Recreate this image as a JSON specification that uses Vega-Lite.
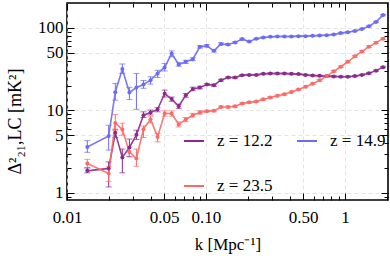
{
"$schema":"https://vega.github.io/schema/vega-lite/v6.json",
"width":321,"height":197,
"autosize":{"type":"none"},
"padding":{"left":67,"top":3,"right":2,"bottom":58},
"background":"white",
"config":{"font":"Liberation Serif","view":{"stroke":"black","strokeWidth":1.6},
"axis":{"labelFont":"Liberation Serif","titleFont":"Liberation Serif","labelColor":"black","titleColor":"black","tickColor":"black","gridColor":"#dcdcdc","gridDash":[4,3],"gridWidth":0.8}},
"data":{"values":[
{"s":"z = 14.9","k":0.014,"p":3.6,"lo":3.1,"hi":4.3},
{"s":"z = 14.9","k":0.01995,"p":4.9,"lo":3.3,"hi":6.6},
{"s":"z = 14.9","k":0.02226,"p":16.6,"lo":13.3,"hi":21.2},
{"s":"z = 14.9","k":0.02501,"p":31.8,"lo":28,"hi":36.5},
{"s":"z = 14.9","k":0.02811,"p":16.5,"lo":13.5,"hi":19},
{"s":"z = 14.9","k":0.03159,"p":18.9,"lo":10.3,"hi":28},
{"s":"z = 14.9","k":0.0355,"p":20.6,"lo":18.5,"hi":23},
{"s":"z = 14.9","k":0.0399,"p":23.2,"lo":20.8,"hi":25.5},
{"s":"z = 14.9","k":0.04484,"p":28,"lo":25,"hi":30.6},
{"s":"z = 14.9","k":0.05039,"p":33.1,"lo":30,"hi":37},
{"s":"z = 14.9","k":0.05663,"p":48.9,"lo":44.5,"hi":52.5},
{"s":"z = 14.9","k":0.06364,"p":36,"lo":34.3,"hi":38.1},
{"s":"z = 14.9","k":0.07152,"p":38.7,"lo":37,"hi":40.5},
{"s":"z = 14.9","k":0.08038,"p":41.7,"lo":40,"hi":43.5},
{"s":"z = 14.9","k":0.09033,"p":58.9,"lo":57,"hi":61},
{"s":"z = 14.9","k":0.1015,"p":60.5,"lo":58.5,"hi":62.5},
{"s":"z = 14.9","k":0.1141,"p":52.6,"lo":51,"hi":54.3},
{"s":"z = 14.9","k":0.1282,"p":63.9,"lo":62,"hi":65.8},
{"s":"z = 14.9","k":0.1441,"p":62.9,"lo":61.2,"hi":64.6},
{"s":"z = 14.9","k":0.162,"p":66.6,"lo":65,"hi":68.2},
{"s":"z = 14.9","k":0.182,"p":73,"lo":71.3,"hi":74.7},
{"s":"z = 14.9","k":0.2046,"p":68.4,"lo":67,"hi":69.8},
{"s":"z = 14.9","k":0.2299,"p":73.6,"lo":72.2,"hi":75},
{"s":"z = 14.9","k":0.2584,"p":76.5,"lo":75.1,"hi":77.9},
{"s":"z = 14.9","k":0.2904,"p":77.8,"lo":76.5,"hi":79.1},
{"s":"z = 14.9","k":0.3263,"p":78.7,"lo":77.5,"hi":79.9},
{"s":"z = 14.9","k":0.3667,"p":78.7,"lo":77.3,"hi":80.1},
{"s":"z = 14.9","k":0.4121,"p":78.7,"lo":77.3,"hi":80.1},
{"s":"z = 14.9","k":0.4632,"p":79.3,"lo":77.9,"hi":80.7},
{"s":"z = 14.9","k":0.5205,"p":79.3,"lo":77.9,"hi":80.7},
{"s":"z = 14.9","k":0.585,"p":80,"lo":78.6,"hi":81.4},
{"s":"z = 14.9","k":0.6574,"p":80.9,"lo":79.4,"hi":82.4},
{"s":"z = 14.9","k":0.7388,"p":81.6,"lo":80.1,"hi":83.1},
{"s":"z = 14.9","k":0.8303,"p":83.2,"lo":81.7,"hi":84.7},
{"s":"z = 14.9","k":0.9331,"p":86.3,"lo":84.7,"hi":87.9},
{"s":"z = 14.9","k":1.0486,"p":88.7,"lo":87.1,"hi":90.3},
{"s":"z = 14.9","k":1.1785,"p":91.5,"lo":89.9,"hi":93.1},
{"s":"z = 14.9","k":1.3243,"p":97,"lo":95.3,"hi":98.7},
{"s":"z = 14.9","k":1.4883,"p":104.5,"lo":102.6,"hi":106.4},
{"s":"z = 14.9","k":1.6726,"p":118,"lo":115.9,"hi":120.1},
{"s":"z = 14.9","k":1.8796,"p":142.6,"lo":140,"hi":145.2},
{"s":"z = 12.2","k":0.014,"p":1.85,"lo":1.75,"hi":2.0},
{"s":"z = 12.2","k":0.01995,"p":1.98,"lo":1.18,"hi":2.38},
{"s":"z = 12.2","k":0.02226,"p":5.34,"lo":4.7,"hi":5.9},
{"s":"z = 12.2","k":0.02501,"p":2.69,"lo":1.75,"hi":3.4},
{"s":"z = 12.2","k":0.02811,"p":3.55,"lo":2.75,"hi":4.5},
{"s":"z = 12.2","k":0.03159,"p":5.05,"lo":4.43,"hi":5.75},
{"s":"z = 12.2","k":0.0355,"p":8.74,"lo":8.2,"hi":9.6},
{"s":"z = 12.2","k":0.0399,"p":9.43,"lo":8.8,"hi":10.1},
{"s":"z = 12.2","k":0.04484,"p":10.25,"lo":9.6,"hi":10.8},
{"s":"z = 12.2","k":0.05039,"p":16,"lo":14.5,"hi":17.6},
{"s":"z = 12.2","k":0.05663,"p":13.7,"lo":12.9,"hi":14.5},
{"s":"z = 12.2","k":0.06364,"p":11.2,"lo":10.5,"hi":11.9},
{"s":"z = 12.2","k":0.07152,"p":15.2,"lo":14.4,"hi":16},
{"s":"z = 12.2","k":0.08038,"p":18.2,"lo":17.3,"hi":19.1},
{"s":"z = 12.2","k":0.09033,"p":18.9,"lo":18.2,"hi":19.6},
{"s":"z = 12.2","k":0.1015,"p":20.6,"lo":20,"hi":21.2},
{"s":"z = 12.2","k":0.1141,"p":20.2,"lo":19.6,"hi":20.8},
{"s":"z = 12.2","k":0.1282,"p":23.2,"lo":22.6,"hi":23.8},
{"s":"z = 12.2","k":0.1441,"p":25,"lo":24.5,"hi":25.5},
{"s":"z = 12.2","k":0.162,"p":25,"lo":24.5,"hi":25.5},
{"s":"z = 12.2","k":0.182,"p":26.7,"lo":26.2,"hi":27.2},
{"s":"z = 12.2","k":0.2046,"p":26.9,"lo":26.4,"hi":27.4},
{"s":"z = 12.2","k":0.2299,"p":26.9,"lo":26.4,"hi":27.4},
{"s":"z = 12.2","k":0.2584,"p":27.7,"lo":27.1,"hi":28.3},
{"s":"z = 12.2","k":0.2904,"p":28,"lo":27.4,"hi":28.6},
{"s":"z = 12.2","k":0.3263,"p":28,"lo":27.4,"hi":28.6},
{"s":"z = 12.2","k":0.3667,"p":28,"lo":27.4,"hi":28.6},
{"s":"z = 12.2","k":0.4121,"p":27.7,"lo":27.1,"hi":28.3},
{"s":"z = 12.2","k":0.4632,"p":27.5,"lo":27,"hi":28},
{"s":"z = 12.2","k":0.5205,"p":26.9,"lo":26.4,"hi":27.4},
{"s":"z = 12.2","k":0.585,"p":26.5,"lo":26,"hi":27},
{"s":"z = 12.2","k":0.6574,"p":26.2,"lo":25.7,"hi":26.7},
{"s":"z = 12.2","k":0.7388,"p":26,"lo":25.5,"hi":26.5},
{"s":"z = 12.2","k":0.8303,"p":25.8,"lo":25.3,"hi":26.3},
{"s":"z = 12.2","k":0.9331,"p":25.6,"lo":25.1,"hi":26.1},
{"s":"z = 12.2","k":1.0486,"p":25.6,"lo":25.1,"hi":26.1},
{"s":"z = 12.2","k":1.1785,"p":26,"lo":25.5,"hi":26.5},
{"s":"z = 12.2","k":1.3243,"p":26.9,"lo":26.4,"hi":27.4},
{"s":"z = 12.2","k":1.4883,"p":28.2,"lo":27.6,"hi":28.8},
{"s":"z = 12.2","k":1.6726,"p":30.3,"lo":29.7,"hi":30.9},
{"s":"z = 12.2","k":1.8796,"p":33.4,"lo":32.7,"hi":34.1},
{"s":"z = 23.5","k":0.014,"p":2.27,"lo":2.03,"hi":2.55},
{"s":"z = 23.5","k":0.01995,"p":1.72,"lo":1.38,"hi":2.1},
{"s":"z = 23.5","k":0.02226,"p":7.05,"lo":5.75,"hi":8.9},
{"s":"z = 23.5","k":0.02501,"p":5.87,"lo":5.0,"hi":7.0},
{"s":"z = 23.5","k":0.02811,"p":3.14,"lo":2.73,"hi":3.6},
{"s":"z = 23.5","k":0.03159,"p":2.61,"lo":2.1,"hi":3.4},
{"s":"z = 23.5","k":0.0355,"p":5.92,"lo":4.69,"hi":6.48},
{"s":"z = 23.5","k":0.0399,"p":7.82,"lo":7.05,"hi":8.5},
{"s":"z = 23.5","k":0.04484,"p":4.77,"lo":4.15,"hi":5.25},
{"s":"z = 23.5","k":0.05039,"p":9.17,"lo":8.5,"hi":9.85},
{"s":"z = 23.5","k":0.05663,"p":9.17,"lo":8.5,"hi":9.85},
{"s":"z = 23.5","k":0.06364,"p":6.75,"lo":6.3,"hi":7.25},
{"s":"z = 23.5","k":0.07152,"p":7.76,"lo":7.3,"hi":8.2},
{"s":"z = 23.5","k":0.08038,"p":8.74,"lo":8.3,"hi":9.2},
{"s":"z = 23.5","k":0.09033,"p":9.43,"lo":9.0,"hi":9.9},
{"s":"z = 23.5","k":0.1015,"p":9.78,"lo":9.54,"hi":10.02},
{"s":"z = 23.5","k":0.1141,"p":9.86,"lo":9.61,"hi":10.11},
{"s":"z = 23.5","k":0.1282,"p":11,"lo":10.7,"hi":11.3},
{"s":"z = 23.5","k":0.1441,"p":11,"lo":10.7,"hi":11.3},
{"s":"z = 23.5","k":0.162,"p":11.2,"lo":10.9,"hi":11.5},
{"s":"z = 23.5","k":0.182,"p":12.1,"lo":11.8,"hi":12.4},
{"s":"z = 23.5","k":0.2046,"p":12.5,"lo":12.2,"hi":12.8},
{"s":"z = 23.5","k":0.2299,"p":12.8,"lo":12.5,"hi":13.1},
{"s":"z = 23.5","k":0.2584,"p":13.6,"lo":13.3,"hi":13.9},
{"s":"z = 23.5","k":0.2904,"p":14.3,"lo":13.9,"hi":14.7},
{"s":"z = 23.5","k":0.3263,"p":15,"lo":14.6,"hi":15.4},
{"s":"z = 23.5","k":0.3667,"p":15.7,"lo":15.3,"hi":16.1},
{"s":"z = 23.5","k":0.4121,"p":16.7,"lo":16.3,"hi":17.1},
{"s":"z = 23.5","k":0.4632,"p":17.9,"lo":17.5,"hi":18.3},
{"s":"z = 23.5","k":0.5205,"p":19.3,"lo":18.8,"hi":19.8},
{"s":"z = 23.5","k":0.585,"p":21,"lo":20.5,"hi":21.5},
{"s":"z = 23.5","k":0.6574,"p":23.1,"lo":22.5,"hi":23.7},
{"s":"z = 23.5","k":0.7388,"p":26,"lo":25.4,"hi":26.6},
{"s":"z = 23.5","k":0.8303,"p":29.7,"lo":29,"hi":30.4},
{"s":"z = 23.5","k":0.9331,"p":33.8,"lo":33,"hi":34.6},
{"s":"z = 23.5","k":1.0486,"p":38.8,"lo":37.8,"hi":39.8},
{"s":"z = 23.5","k":1.1785,"p":45.2,"lo":44.1,"hi":46.3},
{"s":"z = 23.5","k":1.3243,"p":51.8,"lo":50.5,"hi":53.1},
{"s":"z = 23.5","k":1.4883,"p":59.2,"lo":57.7,"hi":60.7},
{"s":"z = 23.5","k":1.6726,"p":66.2,"lo":64.5,"hi":67.9},
{"s":"z = 23.5","k":1.8796,"p":74,"lo":72.2,"hi":75.8}
]},
"resolve":{"axis":{"x":"independent","y":"independent"}},
"layer":[
{"mark":{"type":"rule","strokeWidth":1},
 "encoding":{
  "x":{"field":"k","type":"quantitative","scale":{"type":"log","domain":[0.01,2.04],"nice":false},
   "axis":{"orient":"bottom","values":[0.01,0.05,0.1,0.5,1],"labelExpr":"datum.value>=1?'1':format(datum.value,'.2f')","grid":true,"ticks":false,"domain":false,"labelFontSize":17,"labelPadding":9,"labelOverlap":false,"labelFlush":false,"title":"k [Mpc⁻¹]","titleFontSize":17,"titleFontWeight":"normal","titleBaseline":"alphabetic","titleY":49,"titleX":160.5}},
  "y":{"field":"lo","type":"quantitative","scale":{"type":"log","domain":[0.82,200],"nice":false},
   "axis":{"orient":"left","values":[1,5,10,50,100],"labelExpr":"format(datum.value,'d')","grid":true,"ticks":false,"domain":false,"labelFontSize":17,"labelPadding":4,"labelOverlap":false,"labelFlush":false,"title":"Δ²₂₁,LC [mK²]","titleFontSize":18,"titleFontWeight":"normal","titleAngle":270,"titleBaseline":"alphabetic","titleAlign":"center","titleX":-47,"titleY":118}},
  "y2":{"field":"hi"},
  "color":{"field":"s","type":"nominal","scale":{"domain":["z = 12.2","z = 23.5","z = 14.9"],"range":["#8b2a8b","#fa6a6a","#6b6bf7"]},
   "legend":{"title":null,"orient":"none","legendX":116,"legendY":127,"columns":2,"symbolType":"stroke","symbolSize":400,"symbolStrokeWidth":2,"labelFontSize":17,"labelFont":"Liberation Serif","labelColor":"black","labelOffset":12,"rowPadding":26,"columnPadding":20}}
 }},
{"mark":{"type":"tick","orient":"horizontal","size":6,"thickness":1},
 "encoding":{
  "x":{"field":"k","type":"quantitative","scale":{"type":"log","domain":[0.01,2.04],"nice":false},
   "axis":{"orient":"bottom","values":[0.01,0.05,0.1,0.5,1],"labels":false,"grid":false,"domain":false,"ticks":true,"tickSize":-7,"tickWidth":1,"title":null}},
  "y":{"field":"lo","type":"quantitative","scale":{"type":"log","domain":[0.82,200],"nice":false},
   "axis":{"orient":"left","values":[1,5,10,50,100],"labels":false,"grid":false,"domain":false,"ticks":true,"tickSize":-7,"tickWidth":1,"title":null}},
  "color":{"field":"s","type":"nominal","legend":null}
 }},
{"mark":{"type":"tick","orient":"horizontal","size":6,"thickness":1},
 "encoding":{
  "x":{"field":"k","type":"quantitative","scale":{"type":"log","domain":[0.01,2.04],"nice":false},
   "axis":{"orient":"bottom","values":[0.02,0.03,0.04,0.06,0.07,0.08,0.09,0.2,0.3,0.4,0.6,0.7,0.8,0.9,2],"labels":false,"grid":false,"domain":false,"ticks":true,"tickSize":-4,"tickWidth":1,"title":null}},
  "y":{"field":"hi","type":"quantitative","scale":{"type":"log","domain":[0.82,200],"nice":false},
   "axis":{"orient":"left","values":[0.9,2,3,4,6,7,8,9,20,30,40,60,70,80,90],"labels":false,"grid":false,"domain":false,"ticks":true,"tickSize":-4,"tickWidth":1,"title":null}},
  "color":{"field":"s","type":"nominal","legend":null}
 }},
{"mark":{"type":"line","strokeWidth":1.6,"opacity":0.9},
 "encoding":{
  "x":{"field":"k","type":"quantitative","scale":{"type":"log","domain":[0.01,2.04],"nice":false},
   "axis":{"orient":"top","values":[0.01,0.05,0.1,0.5,1],"labels":false,"grid":false,"domain":false,"ticks":true,"tickSize":-7,"tickWidth":1,"title":null}},
  "y":{"field":"p","type":"quantitative","scale":{"type":"log","domain":[0.82,200],"nice":false},
   "axis":{"orient":"right","values":[1,5,10,50,100],"labels":false,"grid":false,"domain":false,"ticks":true,"tickSize":-7,"tickWidth":1,"title":null}},
  "color":{"field":"s","type":"nominal","legend":null}
 }},
{"mark":{"type":"point","filled":true,"size":16,"opacity":1},
 "encoding":{
  "x":{"field":"k","type":"quantitative","scale":{"type":"log","domain":[0.01,2.04],"nice":false},
   "axis":{"orient":"top","values":[0.02,0.03,0.04,0.06,0.07,0.08,0.09,0.2,0.3,0.4,0.6,0.7,0.8,0.9,2],"labels":false,"grid":false,"domain":false,"ticks":true,"tickSize":-4,"tickWidth":1,"title":null}},
  "y":{"field":"p","type":"quantitative","scale":{"type":"log","domain":[0.82,200],"nice":false},
   "axis":{"orient":"right","values":[0.9,2,3,4,6,7,8,9,20,30,40,60,70,80,90],"labels":false,"grid":false,"domain":false,"ticks":true,"tickSize":-4,"tickWidth":1,"title":null}},
  "color":{"field":"s","type":"nominal","legend":null}
 }}
]
}
